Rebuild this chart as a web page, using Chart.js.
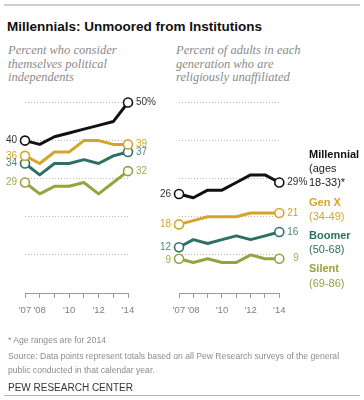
<!DOCTYPE html>
<html>
<head>
<meta charset="utf-8">
<script src="https://cdn.jsdelivr.net/npm/chart.js@4"></script>
<style>
  html, body { margin:0; padding:0; background:#fff; }
  body { width:364px; height:400px; position:relative; overflow:hidden; font-family:"Liberation Sans", Arial, sans-serif; }
  .abs { position:absolute; white-space:nowrap; }
  .rule { position:absolute; left:4px; width:356px; height:1px; background:#c8c8c8; }
  .sub { font-family:"Liberation Serif", serif; font-style:italic; color:#8a8a8a; font-size:12.5px; line-height:13.5px; }
  .foot { color:#8c8c8c; font-size:8.6px; line-height:14px; }
  .lg { font-size:11px; line-height:14px; left:309px; }
  .lgb { font-weight:bold; }
  .cv { position:absolute; left:0; top:0; width:364px; height:400px; }
</style>
</head>
<body>
<div class="rule" style="top:4px;height:2px;background:#cfcfcf"></div>
<div class="abs" style="left:7px;top:18px;font-size:13.5px;font-weight:bold;color:#111;line-height:18px">Millennials: Unmoored from Institutions</div>
<div class="abs sub" style="left:8px;top:44px">Percent who consider<br>themselves political<br>independents</div>
<div class="abs sub" style="left:176px;top:44px">Percent of adults in each<br>generation who are<br>religiously unaffiliated</div>

<div class="cv"><canvas id="c1"></canvas></div>
<div class="cv"><canvas id="c2"></canvas></div>

<div class="abs lg lgb" style="top:147px;color:#111">Millennial</div>
<div class="abs lg" style="top:161px;color:#222">(ages</div>
<div class="abs lg" style="top:175px;color:#222">18-33)*</div>
<div class="abs lg lgb" style="top:195px;color:#D4A52C">Gen X</div>
<div class="abs lg" style="top:209px;color:#D4A52C">(34-49)</div>
<div class="abs lg lgb" style="top:228px;color:#2B7262">Boomer</div>
<div class="abs lg" style="top:242px;color:#2B7262">(50-68)</div>
<div class="abs lg lgb" style="top:261px;color:#98A23E">Silent</div>
<div class="abs lg" style="top:276px;color:#98A23E">(69-86)</div>

<div class="abs foot" style="left:8px;top:333px">* Age ranges are for 2014</div>
<div class="abs foot" style="left:8px;top:349px">Source: Data points represent totals based on all Pew Research surveys of the general</div>
<div class="abs foot" style="left:8px;top:363px">public conducted in that calendar year.</div>
<div class="abs" style="left:8px;top:381px;font-size:10px;line-height:13px;color:#333">PEW RESEARCH CENTER</div>
<div class="rule" style="top:395px;background:#b5b5b5"></div>

<script>
// ---- data ----
const years = ["'07","'08","'09","'10","'11","'12","'13","'14"];
const shownTicks = ["'07","'08","","'10","","'12","","'14"];

const seriesNames = ["Millennial","Gen X","Boomer","Silent"];

const indMillennial = [40,39,41,42,43,44,45,50];
const indGenX       = [36,34,37,37,40,40,39,39];
const indBoomer     = [34,31,34,34,35,34,36,37];
const indSilent     = [29,26,28,28,29,26,29,32];

const relMillennial = [26,25,27,27,29,31,31,29];
const relGenX       = [18,19,20,20,20,21,21,21];
const relBoomer     = [12,14,13,14,15,14,15,16];
const relSilent     = [9,8,9,8,8,10,9,9];

const yTicks = [0,10,20,30,40,50];

// ---- styles ----
const lineColors  = ["#111111","#D4A52C","#2B7262","#98A23E"];
const labelColors = ["#333333","#D4A52C","#4F8A80","#A3AA55"];

const labelPlugin = {
  id: 'endLabels',
  afterDatasetsDraw(chart) {
    const ctx = chart.ctx;
    ctx.save();
    ctx.font = '10px "Liberation Sans", Arial, sans-serif';
    ctx.textBaseline = 'middle';
    chart.data.datasets.forEach((ds, i) => {
      const meta = chart.getDatasetMeta(i);
      const n = ds.data.length;
      const p0 = meta.data[0], p1 = meta.data[n - 1];
      ctx.fillStyle = ds.labelColor;
      ctx.textAlign = 'right';
      ctx.fillText(String(ds.data[0]), p0.x - 8, p0.y + (ds.startDy || 0));
      ctx.textAlign = 'left';
      ctx.fillText(String(ds.data[n - 1]) + (i === 0 ? '%' : ''), p1.x + 8 + (ds.endDx || 0), p1.y);
    });
    ctx.restore();
  }
};

function makeChart(id, seriesData, left, right, extras) {
  const datasets = seriesData.map((d, i) => Object.assign({
    label: seriesNames[i],
    data: d,
    borderColor: lineColors[i],
    borderWidth: 3,
    tension: 0,
    borderJoinStyle: 'round',
    clip: false,
    pointRadius: ctx => (ctx.dataIndex === 0 || ctx.dataIndex === d.length - 1) ? 4.5 : 0,
    pointHoverRadius: 0,
    pointBackgroundColor: '#ffffff',
    pointBorderColor: lineColors[i],
    pointBorderWidth: 1.6,
    labelColor: labelColors[i]
  }, extras[i] || {}));
  return new Chart(document.getElementById(id), {
    type: 'line',
    data: { labels: years, datasets },
    plugins: [labelPlugin],
    options: {
      responsive: true,
      maintainAspectRatio: false,
      animation: false,
      events: [],
      layout: { padding: { left: left, right: 364 - right, top: 102.5, bottom: 82 } },
      plugins: { legend: { display: false }, tooltip: { enabled: false } },
      scales: {
        x: {
          type: 'category',
          offset: false,
          afterFit: s => { s.height = 25; },
          border: { display: true, color: '#9a9a9a', width: 1 },
          grid: { drawOnChartArea: false, drawTicks: true, tickLength: 5, color: '#9a9a9a', lineWidth: 1 },
          ticks: {
            autoSkip: false, maxRotation: 0, padding: 7,
            color: '#808080', font: { size: 9.5, family: '"Liberation Sans", Arial, sans-serif' },
            callback: (v, i) => shownTicks[i]
          }
        },
        y: {
          min: yTicks[0], max: yTicks[yTicks.length - 1],
          afterFit: s => { s.width = 0; },
          afterBuildTicks: s => { s.ticks = yTicks.map(v => ({ value: v })); },
          border: { display: false, dash: [1, 2] },
          grid: {
            drawTicks: false, lineWidth: 1,
            color: c => (c.tick && c.tick.value === 0) ? 'rgba(0,0,0,0)' : '#b8b8b8'
          },
          ticks: { display: false }
        }
      }
    }
  });
}

makeChart('c1', [indMillennial, indGenX, indBoomer, indSilent], 25, 128, []);
makeChart('c2', [relMillennial, relGenX, relBoomer, relSilent], 179, 279.3, [null, null, null, { endDx: 6, startDy: 2 }]);
</script>
</body>
</html>
